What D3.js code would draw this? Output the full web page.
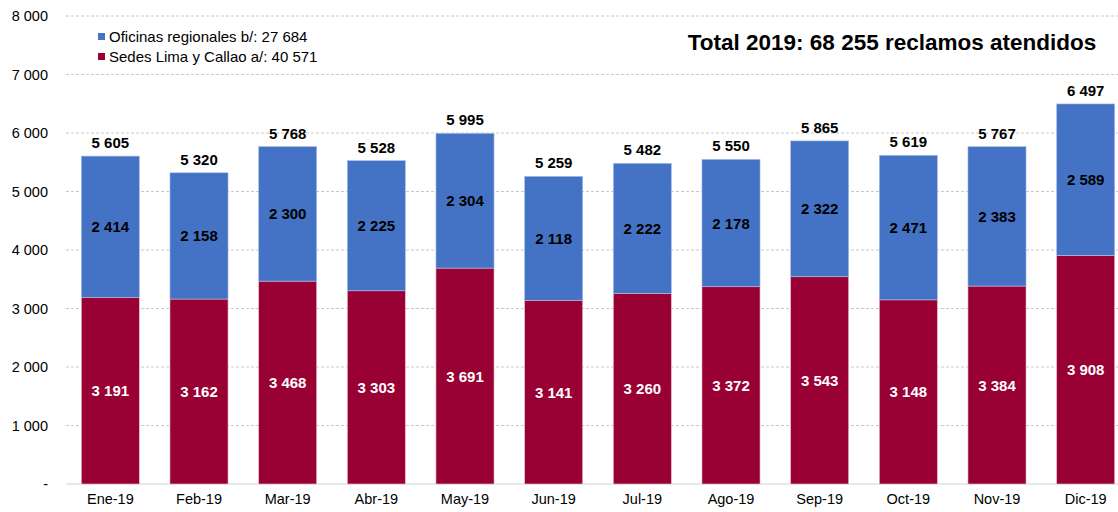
<!DOCTYPE html>
<html lang="es">
<head>
<meta charset="UTF-8">
<title>Reclamos 2019</title>
<script src="https://d3js.org/d3.v7.min.js"></script>
<style>
    body{ margin:0; background:#fff; }
    svg{ font-family: "Liberation Sans", Arial, sans-serif; }
    .tick text{ font-size:14.5px; fill:#000; }
    .grid line{ stroke:#c8c8c8; stroke-dasharray:3,2; }
    .val{ font-size:15px; font-weight:bold; text-anchor:middle; }
    .legend{ font-size:15px; }
    .title{ font-size:22.5px; font-weight:bold; text-anchor:middle; }
</style>
</head>
<body>
<svg id="chart" width="1118" height="512"></svg>
<script>
    let months = ["Ene-19","Feb-19","Mar-19","Abr-19","May-19","Jun-19","Jul-19","Ago-19","Sep-19","Oct-19","Nov-19","Dic-19"]
    let sedes = [3191,3162,3468,3303,3691,3141,3260,3372,3543,3148,3384,3908]
    let oficinas = [2414,2158,2300,2225,2304,2118,2222,2178,2322,2471,2383,2589]
    let totals = [5605,5320,5768,5528,5995,5259,5482,5550,5865,5619,5767,6497]
    let yTicks = [0,1000,2000,3000,4000,5000,6000,7000,8000]
    let seriesNames = ["Oficinas regionales b/: 27 684","Sedes Lima y Callao a/: 40 571"]
    let colors = ["#4472c4","#990033"]
    let title = "Total 2019: 68 255 reclamos atendidos"

    let fmt = function (v){ return d3.format(",")(v).replace(/,/g," ") }

    let svg = d3.select("#chart")
    let x = d3.scaleBand().domain(months).range([66,1130]).paddingInner(0.345).paddingOuter(0.1725)
    let y = d3.scaleLinear().domain([0,8000]).range([484,16])

    // gridlines
    svg.append("g").attr("class","grid")
        .selectAll("line").data(yTicks.slice(1)).enter().append("line")
        .attr("x1",66).attr("x2",1118)
        .attr("y1",d=>y(d)).attr("y2",d=>y(d))

    // y axis
    let yAxis = d3.axisLeft(y).tickValues(yTicks).tickSize(0).tickPadding(18)
        .tickFormat(d=> d===0 ? "-" : fmt(d))
    svg.append("g").attr("transform","translate(66,0)").call(yAxis)
        .call(g=>g.select(".domain").remove())

    // x axis
    let xAxis = d3.axisBottom(x).tickSize(0).tickPadding(10)
    svg.append("g").attr("transform","translate(0,484)").call(xAxis)
        .call(g=>g.select(".domain").attr("stroke","#d0d0d0").attr("d","M66,0H1118"))

    let data = months.map(function (m,i){
        return {m:m, s:sedes[i], o:oficinas[i], t:totals[i]}
    })

    let bars = svg.append("g").selectAll("g").data(data).enter().append("g")
    // red bottom
    bars.append("rect")
        .attr("x",d=>x(d.m)).attr("width",x.bandwidth())
        .attr("y",d=>y(d.s)).attr("height",d=>y(0)-y(d.s))
        .attr("fill",colors[1]).attr("stroke","#e8c8d0").attr("stroke-width",0.6)
    // blue top
    bars.append("rect")
        .attr("x",d=>x(d.m)).attr("width",x.bandwidth())
        .attr("y",d=>y(d.s+d.o)).attr("height",d=>y(d.s)-y(d.s+d.o))
        .attr("fill",colors[0]).attr("stroke","#a9c0ea").attr("stroke-width",0.6)

    bars.append("text").attr("class","val").attr("fill","#fff")
        .attr("x",d=>x(d.m)+x.bandwidth()/2).attr("y",d=>y(d.s/2)+5.5)
        .text(d=>fmt(d.s))
    bars.append("text").attr("class","val").attr("fill","#000")
        .attr("x",d=>x(d.m)+x.bandwidth()/2).attr("y",d=>y(d.s+d.o/2)+5.5)
        .text(d=>fmt(d.o))
    bars.append("text").attr("class","val").attr("fill","#000")
        .attr("x",d=>x(d.m)+x.bandwidth()/2).attr("y",d=>y(d.t)-8)
        .text(d=>fmt(d.t))

    // legend
    seriesNames.forEach(function (d,i){
        let lg = svg.append("g").attr("transform",`translate(98,${33+i*20})`)
        lg.append("rect").attr("width",7).attr("height",7).attr("fill",colors[i])
        lg.append("text").attr("class","legend").attr("x",11).attr("y",9).text(d)
    })

    svg.append("text").attr("class","title").attr("x",892).attr("y",50).text(title)
</script>
</body>
</html>
